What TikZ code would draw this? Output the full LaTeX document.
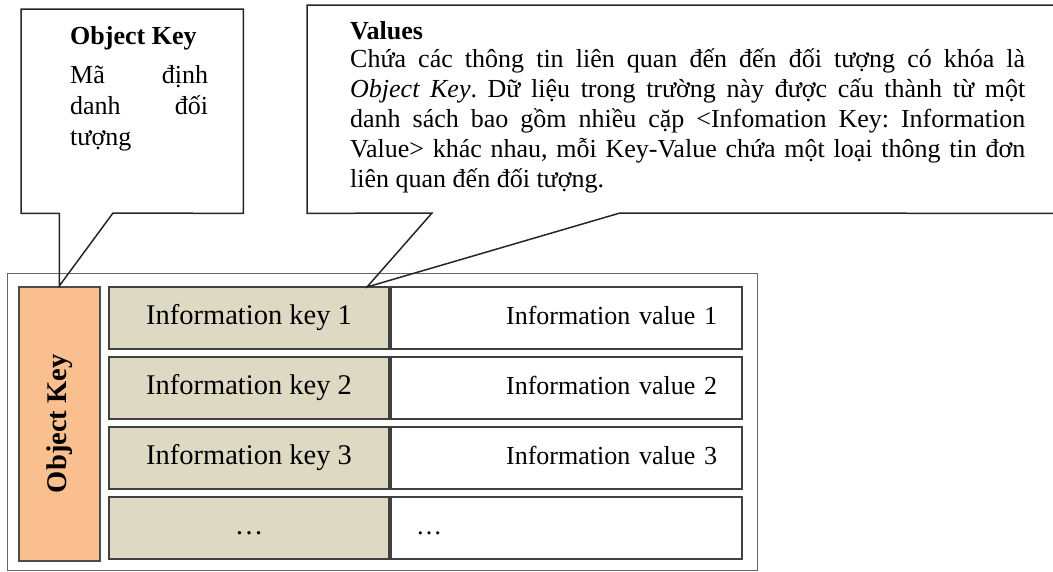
\documentclass[tikz,border=0pt]{standalone}
\usepackage{fontspec}
\setmainfont{Liberation Serif}
\usetikzlibrary{positioning}
\definecolor{okeyfill}{HTML}{FABF8F}
\definecolor{keyfill}{HTML}{DDD9C3}
\frenchspacing
\tikzset{
  frame/.style={draw=black!60, line width=1.2pt, inner sep=0pt},
  okeybox/.style={draw=black!70, line width=1.5pt, fill=okeyfill, minimum width=81pt, minimum height=274pt, inner sep=0pt},
  rowbox/.style={draw=black!75, line width=2pt, minimum height=62pt, text height=19pt, text depth=6pt, inner ysep=0pt},
  keybox/.style={rowbox, fill=keyfill, minimum width=280pt, inner xsep=0pt, font=\fontsize{28.5}{30}\selectfont},
  valbox/.style={rowbox, minimum width=351pt, inner xsep=25pt, text width=301pt, align=right, font=\fontsize{26}{30}\selectfont},
  callline/.style={draw=black!85, line width=1.5pt, line join=miter},
  calltext/.style={anchor=north west, inner sep=0pt, align=justify, font=\fontsize{26}{31}\selectfont}
}
\begin{document}
\begin{tikzpicture}[x=1pt,y=-1pt]
\useasboundingbox (0,0) rectangle (1053,571);
\node[frame, anchor=north west, minimum width=750pt, minimum height=297pt] (frame) at (7,273) {};
\node[okeybox, anchor=north west] (okey) at (18,286) {\rotatebox{90}{\bfseries\fontsize{28.5}{30}\selectfont Object Key}};
\foreach \i in {1,2,3} {
  \node[keybox, anchor=north west] (key\i) at (108,216+70*\i) {Information key \i};
  \node[valbox, right=0pt of key\i] (val\i) {Information value \i};
}
\node[keybox, anchor=north west] (key4) at (108,496) {\ldots};
\node[valbox, right=0pt of key4, align=left] (val4) {\ldots};

\node[anchor=north west, minimum width=222pt, minimum height=204pt, inner sep=0pt] (ckey) at (21,9) {};
\coordinate (kbase) at (113,213);
\draw[callline] (ckey.north west) -- (ckey.north east) -- (ckey.south east) -- (kbase)
  -- (okey.north) -- (okey.north |- ckey.south) -- (ckey.south west) -- cycle;
\node[calltext, text width=138pt] (ktext) at (70,26)
  {\textbf{Object Key}\\[8pt] Mã\hfill định\\ danh\hfill đối\\ tượng};

\node[anchor=north west, minimum width=780pt, minimum height=208pt, inner sep=0pt] (cval) at (307,5) {};
\coordinate (vbase1) at (432,213);
\coordinate (vbase2) at (620,213);
\coordinate (vtip) at (367,287);
\draw[callline] (cval.south east) -- (vbase2) -- (vtip) -- (vbase1) -- (cval.south west)
  -- (cval.north west) -- (cval.north east);
\node[calltext, text width=675pt, font=\fontsize{26}{30}\selectfont] (vtext) at (350,21)
  {\textbf{Values}\par\vspace{-2pt}
   Chứa các thông tin liên quan đến đến đối tượng có khóa là\linebreak
   \textit{Object Key}. Dữ liệu trong trường này được cấu thành từ một\linebreak
   danh sách bao gồm nhiều cặp <Infomation Key: Information\linebreak
   Value> khác nhau, mỗi Key-Value chứa một loại thông tin đơn\linebreak
   liên quan đến đối tượng.};
\end{tikzpicture}
\end{document}
